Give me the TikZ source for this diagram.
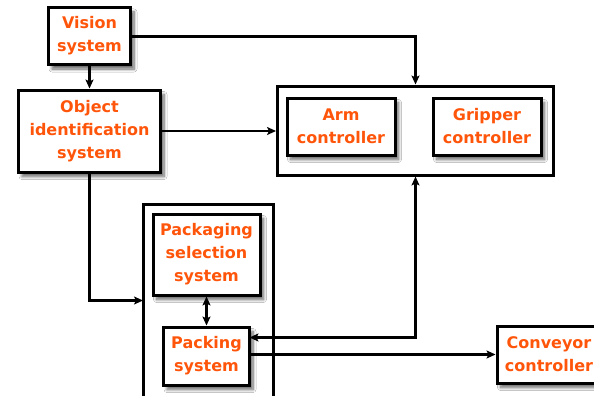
\documentclass[tikz,border=0pt]{standalone}
\usepackage{fontspec}
\setmainfont{DejaVu Sans}
\usetikzlibrary{arrows.meta,shadows.blur}
\definecolor{labelorange}{RGB}{255,85,10}
\tikzset{
  box/.style={draw=black, line width=3pt, fill=white, inner sep=0pt,
    align=center, text=labelorange, font=\fontsize{16}{23}\selectfont\bfseries},
  shadowbox/.style={box, blur shadow={shadow xshift=3.5pt, shadow yshift=-4.5pt,
    shadow blur steps=8, shadow blur radius=3pt, shadow opacity=60}},
  frame/.style={draw=black, line width=3pt, fill=white, inner sep=0pt},
  link/.style={draw=black, line width=2.8pt, -{Stealth[length=9pt,width=8pt,inset=2pt]}},
  twoway/.style={draw=black, line width=2.8pt, {Stealth[length=9pt,width=8pt,inset=2pt]}-{Stealth[length=9pt,width=8pt,inset=2pt]}}
}
\begin{document}
\begin{tikzpicture}[x=1pt,y=-1pt]
  \useasboundingbox (0,0) rectangle (594,396);
  \fill[white] (0,0) rectangle (594,396);

  % outer frames
  \node[frame, minimum width=276pt, minimum height=89pt] (armbox) at (415.5,130.5) {};
  \node[frame, minimum width=130pt, minimum height=230pt] (packbox) at (208,319) {};

  % subsystems
  \node[shadowbox, minimum width=82pt, minimum height=57pt] (vision) at (89.5,36) {Vision\\system};
  \node[shadowbox, minimum width=142pt, minimum height=82pt] (object) at (89.5,131) {Object\\identification\\system};
  \node[shadowbox, minimum width=108pt, minimum height=57pt] (arm) at (341,126.5) {Arm\\controller};
  \node[shadowbox, minimum width=108pt, minimum height=57pt] (gripper) at (487,126.5) {Gripper\\controller};
  \node[shadowbox, minimum width=107pt, minimum height=81pt] (packsel) at (206.5,254.5) {Packaging\\selection\\system};
  \node[shadowbox, minimum width=86pt, minimum height=58pt] (packing) at (206.5,356) {Packing\\system};
  \node[shadowbox, minimum width=104pt, minimum height=57pt] (conveyor) at (549,354.5) {Conveyor\\controller};

  % connector end points on box edges
  \coordinate (packin) at (143,300.5);
  \coordinate (packarm) at (249.5,337.5);

  % connectors
  \draw[link] (vision.south) -- (object.north);
  \draw[link] ([yshift=-0.5pt]vision.east) -| (armbox.north);
  \draw[link] (object.east) -- (object.east -| armbox.west);
  \draw[link] (object.south) |- (packin);
  \draw[twoway] (armbox.south) |- (packarm);
  \draw[twoway] (packsel.south) -- (packing.north);
  \draw[link] (packing.east |- conveyor.west) -- (conveyor.west);
\end{tikzpicture}
\end{document}
